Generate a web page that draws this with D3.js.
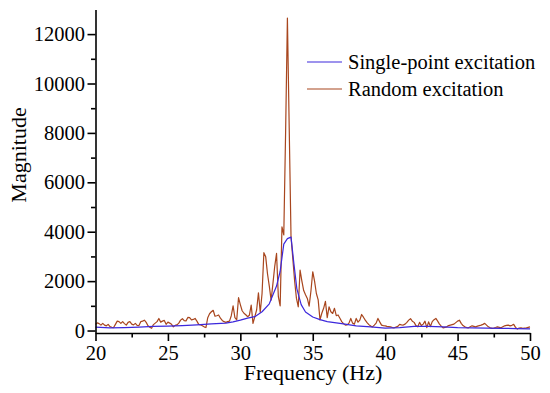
<!DOCTYPE html>
<html>
<head>
<meta charset="utf-8">
<script src="https://cdn.jsdelivr.net/npm/d3@7"></script>
<style>
  body { margin: 0; background: #fff; }
  svg { display: block; }
  svg text { font-family: "Liberation Serif", "Times New Roman", serif; }
</style>
</head>
<body>
<svg id="chart" width="550" height="393"></svg>
<script>
const seriesNames = ['Single-point excitation', 'Random excitation'];
const seriesColors = ['#3c28dc', '#a8461e'];
const xTicks = [20, 25, 30, 35, 40, 45, 50];
const xMinor = [22.5, 27.5, 32.5, 37.5, 42.5, 47.5];
const yTicks = [0, 2000, 4000, 6000, 8000, 10000, 12000];
const yMinor = [1000, 3000, 5000, 7000, 9000, 11000];

// single-point excitation (smooth curve)
const singleFreq = [20, 21, 22, 23, 24, 25, 26, 27, 28, 29, 29.5, 30, 30.5, 31, 31.5, 32, 32.5, 32.75,
  33, 33.25, 33.5, 33.7, 33.9, 34.2, 34.5, 35, 35.5, 36, 36.5, 37, 38, 39, 40, 41, 42, 43, 44, 45,
  46, 47, 48, 49, 50];
const singleMag = [140, 110, 120, 140, 170, 180, 200, 230, 270, 300, 350, 420, 500, 560, 760, 1080, 1800, 2400,
  3500, 3720, 3780, 2700, 1700, 1050, 750, 550, 440, 360, 320, 280, 190, 150, 100, 120, 170, 170, 150, 120,
  110, 100, 90, 80, 70];

// random excitation, sampled every 0.125 Hz from 20 Hz
const randomStart = 20;
const randomStep = 0.125;
const randomMag = [
  250, 310, 280, 220, 290, 220, 190, 250,
  160, 130, 120, 250, 380, 360, 290, 360,
  280, 220, 330, 360, 260, 230, 290, 210,
  200, 360, 380, 420, 330, 190, 130, 90,
  240, 300, 360, 490, 340, 380, 410, 250,
  340, 300, 250, 150, 210, 230, 300, 420,
  480, 400, 390, 530, 520, 430, 450, 490,
  380, 250, 230, 190, 150, 120, 520, 680,
  760, 820, 580, 600, 630, 500, 410, 360,
  330, 360, 380, 600, 1000, 520, 430, 1330,
  1050, 800, 700, 640, 560, 620, 1030, 290,
  560, 830, 1530, 740, 1500, 3150, 2990, 2300,
  1800, 1230, 1900, 2600, 3120, 1370, 1000, 4200,
  3870, 8000, 12650, 8200, 3800, 2900, 2000, 1300,
  960, 2450, 2000, 1620, 1450, 1300, 990, 1600,
  2380, 2000, 1500, 1240, 430, 700, 900, 1180,
  520, 960, 760, 690, 900, 600, 630, 500,
  360, 280, 220, 230, 300, 490, 300, 260,
  490, 340, 420, 650, 540, 420, 320, 240,
  180, 150, 220, 300, 490, 350, 220, 200,
  190, 170, 160, 150, 120, 110, 140, 170,
  250, 230, 220, 260, 330, 420, 480, 380,
  330, 200, 150, 330, 200, 260, 380, 120,
  350, 160, 360, 440, 490, 380, 260, 180,
  110, 130, 150, 200, 220, 240, 260, 320,
  380, 420, 290, 200, 150, 120, 110, 150,
  190, 170, 150, 180, 200, 220, 250, 290,
  220, 150, 110, 90, 100, 120, 150, 130,
  110, 150, 190, 210, 220, 190, 210, 250,
  130, 60, 100, 110, 90, 100, 110, 130,
  150
];

const svg = d3.select('#chart');
const x = d3.scaleLinear().domain([20, 50]).range([95.5, 530]);
const y = d3.scaleLinear().domain([-100, 13000]).range([333, 9.4]);

const line = d3.line().x(d => x(d[0])).y(d => y(d[1]));
const randomData = randomMag.map((v, i) => [randomStart + i * randomStep, v]);
const singleData = singleFreq.map((f, i) => [f, singleMag[i]]);

svg.append('path')
  .datum(randomData)
  .attr('d', line)
  .attr('fill', 'none')
  .attr('stroke', seriesColors[1])
  .attr('stroke-width', 1.2)
  .attr('stroke-linejoin', 'round');

svg.append('path')
  .datum(singleData)
  .attr('d', line)
  .attr('fill', 'none')
  .attr('stroke', seriesColors[0])
  .attr('stroke-width', 1.2)
  .attr('stroke-linejoin', 'round');

// axes
const styleAxis = g => {
  g.selectAll('path, line').attr('stroke', '#000').attr('stroke-width', 1.6);
  g.selectAll('text')
    .style('font-family', '"Liberation Serif", "Times New Roman", serif')
    .style('font-size', '20.5px')
    .attr('fill', '#000');
};

svg.append('g')
  .attr('transform', `translate(0,${y(-100)})`)
  .call(d3.axisBottom(x).tickValues(xTicks).tickSize(8).tickSizeOuter(0).tickPadding(4)
    .tickFormat(d3.format('d')))
  .call(styleAxis);

svg.append('g')
  .attr('transform', `translate(0,${y(-100)})`)
  .call(d3.axisBottom(x).tickValues(xMinor).tickSize(4.5).tickFormat(''))
  .call(g => g.select('.domain').remove())
  .call(styleAxis);

svg.append('g')
  .attr('transform', `translate(${x(20)},0)`)
  .call(d3.axisLeft(y).tickValues(yTicks).tickSize(8).tickSizeOuter(0).tickPadding(2.5)
    .tickFormat(d3.format('d')))
  .call(styleAxis);

svg.append('g')
  .attr('transform', `translate(${x(20)},0)`)
  .call(d3.axisLeft(y).tickValues(yMinor).tickSize(4.5).tickFormat(''))
  .call(g => g.select('.domain').remove())
  .call(styleAxis);

// axis titles
svg.append('text')
  .attr('x', 313)
  .attr('y', 380)
  .attr('text-anchor', 'middle')
  .attr('font-size', 22)
  .text('Frequency (Hz)');

svg.append('text')
  .attr('transform', 'translate(26,155) rotate(-90)')
  .attr('text-anchor', 'middle')
  .attr('font-size', 22)
  .text('Magnitude');

// legend
const legend = svg.append('g');
seriesNames.forEach((name, i) => {
  const ly = 62 + i * 27;
  legend.append('line')
    .attr('x1', 307).attr('x2', 342)
    .attr('y1', ly).attr('y2', ly)
    .attr('stroke', seriesColors[i])
    .attr('stroke-width', 1.2);
  legend.append('text')
    .attr('x', 348)
    .attr('y', ly + 6.5)
    .attr('font-size', 20.5)
    .text(name);
});
</script>
</body>
</html>
